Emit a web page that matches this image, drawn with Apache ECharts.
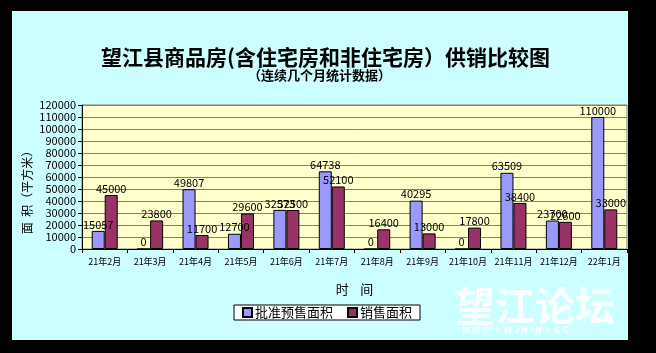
<!DOCTYPE html>
<html>
<head>
<meta charset="utf-8">
<script src="https://cdn.jsdelivr.net/npm/echarts@6/dist/echarts.min.js"></script>
<style>
  html, body { margin: 0; padding: 0; background: #000; }
  #chart { width: 656px; height: 353px; }
</style>
</head>
<body>
<div id="chart"></div>
<script>
const months = ['21年2月', '21年3月', '21年4月', '21年5月', '21年6月', '21年7月',
  '21年8月', '21年9月', '21年10月', '21年11月', '21年12月', '22年1月']
const approvedArea = [15057, 0, 49807, 12700, 32573, 64738, 0, 40295, 0, 63509, 23700, 110000]
const soldArea = [45000, 23800, 11700, 29600, 32500, 52100, 16400, 13000, 17800, 38400, 22600, 33000]
const seriesNames = ['批准预售面积', '销售面积']

const font = '"Noto Sans CJK SC", "DejaVu Sans", sans-serif'

const chart = echarts.init(document.getElementById('chart'))

const barLabel = {
  show: true,
  position: 'top',
  distance: 1,
  color: '#000',
  fontSize: 11,
  fontFamily: font,
}

const option = {
  backgroundColor: '#000',
  animation: false,
  graphic: [
    {
      type: 'rect',
      z: -10,
      silent: true,
      shape: { x: 12, y: 11, width: 616, height: 329 },
      style: { fill: '#CCFFFF' },
    },
    {
      type: 'text',
      left: 455,
      top: 286,
      z: 100,
      silent: true,
      style: {
        text: '望江论坛',
        fill: 'rgba(255,255,255,0.92)',
        fontSize: 40,
        fontWeight: 'bold',
        fontFamily: font,
      },
    },
    {
      type: 'text',
      left: 462,
      top: 325,
      z: 100,
      silent: true,
      style: {
        text: 'W W W · W J N I N · C C',
        fill: 'rgba(255,255,255,0.9)',
        fontSize: 9,
        fontWeight: 'bold',
        fontFamily: font,
      },
    },
  ],
  title: [
    {
      text: '望江县商品房(含住宅房和非住宅房）供销比较图',
      left: 96,
      top: 42,
      textStyle: {
        color: '#000',
        fontSize: 21,
        fontWeight: 'bold',
        fontFamily: font,
      },
    },
    {
      text: '（连续几个月统计数据）',
      left: 243,
      top: 64,
      textStyle: {
        color: '#000',
        fontSize: 13,
        fontWeight: 'bold',
        fontFamily: font,
      },
    },
  ],
  legend: {
    data: seriesNames,
    left: 234,
    top: 305,
    width: 190,
    padding: [1, 8, 1, 8],
    itemGap: 14,
    itemWidth: 9,
    itemHeight: 9,
    borderColor: '#000',
    borderWidth: 1,
    backgroundColor: '#fff',
    borderRadius: 0,
    icon: 'rect',
    textStyle: {
      color: '#000',
      fontSize: 13,
      fontFamily: font,
      padding: [0, 0, 0, -2],
    },
  },
  grid: {
    left: 82,
    top: 105,
    right: 29,
    bottom: 104,
    show: true,
    backgroundColor: '#FFFFCC',
    borderColor: '#808080',
    borderWidth: 1,
  },
  xAxis: {
    type: 'category',
    data: months,
    name: '时    间',
    nameLocation: 'middle',
    nameGap: 34,
    nameMoveOverlap: false,
    nameTextStyle: {
      color: '#000',
      fontSize: 13,
      fontFamily: font,
    },
    axisLine: { lineStyle: { color: '#000', width: 1 } },
    axisTick: { show: true, alignWithLabel: false, length: 4, lineStyle: { color: '#000' } },
    axisLabel: {
      color: '#000',
      fontSize: 9,
      fontFamily: font,
      margin: 8,
      interval: 0,
    },
  },
  yAxis: {
    type: 'value',
    min: 0,
    max: 120000,
    interval: 10000,
    name: '面  积（平方米）',
    nameLocation: 'middle',
    nameGap: 49,
    nameMoveOverlap: false,
    nameRotate: 90,
    nameTextStyle: {
      color: '#000',
      fontSize: 12,
      fontFamily: font,
      padding: [0, 0, 0, -25],
    },
    axisLine: { show: true, lineStyle: { color: '#000', width: 1 } },
    axisTick: { show: true, length: 4, lineStyle: { color: '#000' } },
    splitLine: { lineStyle: { color: '#808080', width: 1 } },
    axisLabel: {
      color: '#000',
      fontSize: 11,
      fontFamily: font,
      margin: 6,
      formatter: (value) => String(value),
    },
  },
  series: [
    {
      name: seriesNames[0],
      type: 'bar',
      data: approvedArea,
      barWidth: 13,
      barGap: '0%',
      itemStyle: { color: '#9999FF', borderColor: '#000', borderWidth: 1 },
      label: barLabel,
    },
    {
      name: seriesNames[1],
      type: 'bar',
      data: soldArea,
      barWidth: 13,
      itemStyle: { color: '#993366', borderColor: '#000', borderWidth: 1 },
      label: barLabel,
    },
  ],
}

chart.setOption(option)
</script>
</body>
</html>
